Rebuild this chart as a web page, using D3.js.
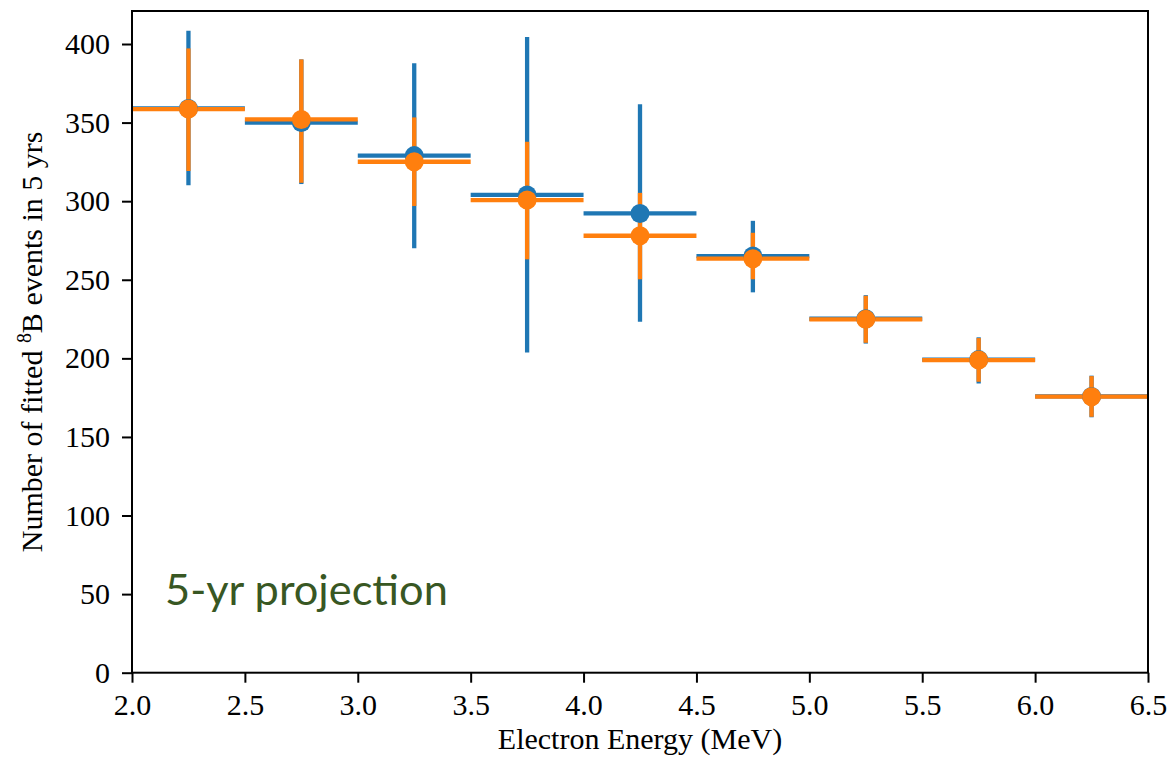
<!DOCTYPE html>
<html>
<head>
<meta charset="utf-8">
<script src="https://cdn.jsdelivr.net/npm/d3@7"></script>
<style>
  body { margin: 0; background: #fff; }
  text { font-family: "Liberation Serif", "Times New Roman", serif; fill: #000; }
</style>
</head>
<body>
<svg id="chart"></svg>
<script>
// bin centres (MeV), each bin is +-0.25 wide
var energy = [2.25, 2.75, 3.25, 3.75, 4.25, 4.75, 5.25, 5.75, 6.25];
var binHalf = 0.25;

// blue fit: value, lower and upper end of the error bar
var blueVal = [359, 350, 329, 304, 292.2, 265.1, 225.2, 199.2, 175.8];
var blueLo  = [310.2, 310.9, 270, 203.8, 223.3, 242, 209.4, 184, 162.5];
var blueHi  = [408.4, 390.2, 387.7, 404.4, 361.6, 287.5, 240.2, 213.4, 189];

// orange fit
var orangeVal = [358.6, 352, 325.1, 300.7, 278, 263.4, 224.8, 198.9, 175.6];
var orangeLo  = [319.2, 311.7, 296.9, 263, 250.3, 250.3, 209.9, 185.1, 162.8];
var orangeHi  = [397.2, 390.2, 353.3, 337.8, 305.3, 279.9, 239.8, 212.9, 188.7];

var xTicks = [2.0, 2.5, 3.0, 3.5, 4.0, 4.5, 5.0, 5.5, 6.0, 6.5];
var yTicks = [0, 50, 100, 150, 200, 250, 300, 350, 400];

var W = 1171, H = 760;
var margin = {left: 132, right: 23, top: 11, bottom: 87.3};
var blue = '#1f77b4', orange = '#ff7f0e';

function makeSeries(val, lo, hi, color) {
  return {
    color: color,
    points: energy.map(function(e, i) {
      return {e: e, v: val[i], lo: lo[i], hi: hi[i]};
    })
  };
}
var series = [
  makeSeries(blueVal, blueLo, blueHi, blue),
  makeSeries(orangeVal, orangeLo, orangeHi, orange)
];

var svg = d3.select('#chart')
  .attr('width', W)
  .attr('height', H);

var x = d3.scaleLinear()
  .domain([2.0, 6.5])
  .range([margin.left, W - margin.right]);
var y = d3.scaleLinear()
  .domain([0, 421])
  .range([H - margin.bottom, margin.top]);

// axes
var xAxis = svg.append('g')
  .attr('transform', 'translate(0,' + y(0) + ')')
  .call(d3.axisBottom(x).tickValues(xTicks).tickFormat(d3.format('.1f'))
    .tickSize(10).tickSizeOuter(0).tickPadding(11));
var yAxis = svg.append('g')
  .attr('transform', 'translate(' + x(2.0) + ',0)')
  .call(d3.axisLeft(y).tickValues(yTicks).tickSize(10).tickSizeOuter(0).tickPadding(12));

[xAxis, yAxis].forEach(function(g) {
  g.select('.domain').remove();
  g.selectAll('.tick line').attr('stroke', '#000').attr('stroke-width', 2);
  g.selectAll('.tick text').style('font-size', '30px').attr('font-family', null);
});

// error bars first (all series), markers on top
var bars = svg.append('g').attr('class', 'bars');
series.forEach(function(s) {
  var g = bars.append('g');
  g.selectAll('line.h')
    .data(s.points)
    .enter()
    .append('line')
    .attr('class', 'h')
    .attr('x1', function(d) { return x(d.e - binHalf); })
    .attr('x2', function(d) { return x(d.e + binHalf); })
    .attr('y1', function(d) { return y(d.v); })
    .attr('y2', function(d) { return y(d.v); })
    .attr('stroke', s.color)
    .attr('stroke-width', 4.3);
  g.selectAll('line.v')
    .data(s.points)
    .enter()
    .append('line')
    .attr('class', 'v')
    .attr('x1', function(d) { return x(d.e); })
    .attr('x2', function(d) { return x(d.e); })
    .attr('y1', function(d) { return y(d.lo); })
    .attr('y2', function(d) { return y(d.hi); })
    .attr('stroke', s.color)
    .attr('stroke-width', 4.3);
});

var marks = svg.append('g').attr('class', 'marks');
series.forEach(function(s) {
  marks.append('g')
    .selectAll('circle')
    .data(s.points)
    .enter()
    .append('circle')
    .attr('cx', function(d) { return x(d.e); })
    .attr('cy', function(d) { return y(d.v); })
    .attr('r', 9.5)
    .attr('fill', s.color);
});

// frame
svg.append('rect')
  .attr('x', x(2.0))
  .attr('y', y.range()[1])
  .attr('width', x(6.5) - x(2.0))
  .attr('height', y(0) - y.range()[1])
  .attr('fill', 'none')
  .attr('stroke', '#000')
  .attr('stroke-width', 2);

// axis labels
svg.append('text')
  .attr('x', (x(2.0) + x(6.5)) / 2)
  .attr('y', 749)
  .attr('text-anchor', 'middle')
  .style('font-size', '30px')
  .text('Electron Energy (MeV)');

var yl = svg.append('text')
  .attr('transform', 'translate(42,' + ((y(0) + y.range()[1]) / 2) + ') rotate(-90)')
  .attr('text-anchor', 'middle')
  .style('font-size', '30px');
yl.append('tspan').text('Number of fitted ');
yl.append('tspan').attr('dy', -11).style('font-size', '20px').text('8');
yl.append('tspan').attr('dy', 11).text('B events in 5 yrs');

// annotation, sized to span the same width as in the source
var note = svg.append('text')
  .attr('x', 165)
  .attr('y', 605)
  .style('font-family', 'Lato, "Open Sans", sans-serif')
  .style('font-size', '50px')
  .style('fill', '#385723')
  .text('5-yr projection');
var nw = note.node().getComputedTextLength();
note.style('font-size', (50 * 283 / nw) + 'px');
</script>
</body>
</html>
